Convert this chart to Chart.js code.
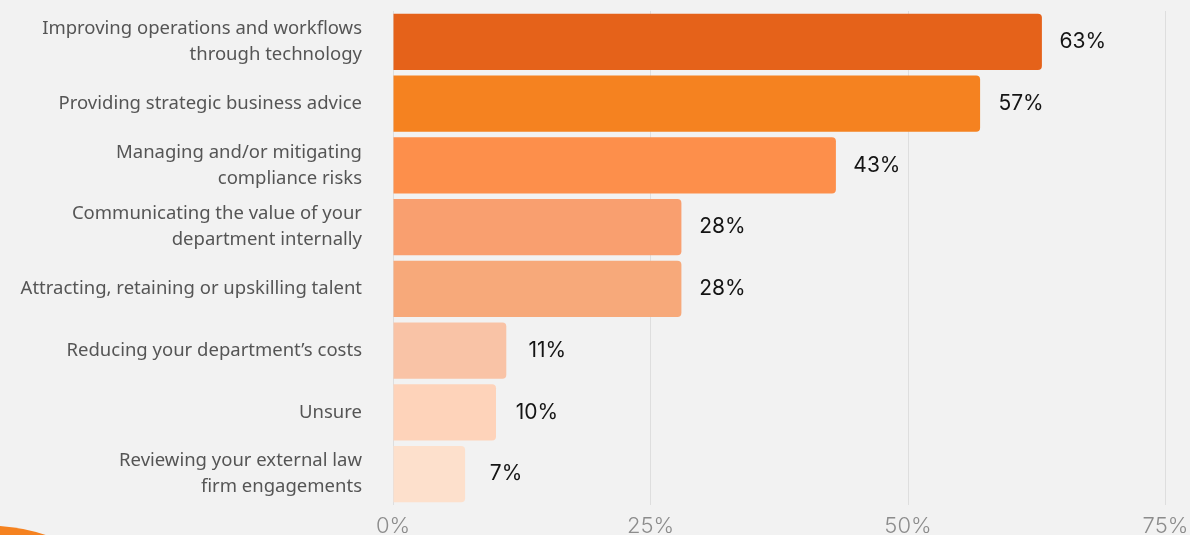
<!DOCTYPE html>
<html>
<head>
<meta charset="utf-8">
<script src="https://cdn.jsdelivr.net/npm/chart.js@4"></script>
<style>
  html, body { margin: 0; padding: 0; background: #f2f2f2; }
  #wrap { position: relative; width: 1190px; height: 535px; overflow: hidden; }
  canvas { display: block; }
</style>
</head>
<body>
<div id="wrap"><canvas id="chart" width="1190" height="535"></canvas></div>
<script>
// Survey priorities, share of respondents (%)
const categories = [
  ["Improving operations and workflows", "through technology"],
  "Providing strategic business advice",
  ["Managing and/or mitigating", "compliance risks"],
  ["Communicating the value of your", "department internally"],
  "Attracting, retaining or upskilling talent",
  "Reducing your department\u2019s costs",
  "Unsure",
  ["Reviewing your external law", "firm engagements"]
];
const values = [63, 57, 43, 28, 28, 11, 10, 7];
const barColors = ["#e5621a", "#f58220", "#fd8f4b", "#f99f6f", "#f7a97a", "#f9c3a6", "#fed3ba", "#fde0cc"];
const tickValues = [0, 25, 50, 75];

// Orange corner accent in the lower-left of the canvas
const cornerAccent = {
  id: 'cornerAccent',
  beforeDraw(chart) {
    const ctx = chart.ctx;
    ctx.save();
    ctx.fillStyle = '#f58220';
    ctx.beginPath();
    ctx.arc(-12, 705.5, 180, 0, Math.PI * 2);
    ctx.fill();
    ctx.restore();
  }
};

// Percentage labels to the right of each bar
const valueLabels = {
  id: 'valueLabels',
  afterDatasetsDraw(chart) {
    const ctx = chart.ctx;
    const meta = chart.getDatasetMeta(0);
    ctx.save();
    ctx.font = '400 21px Inter, "Noto Sans", sans-serif';
    ctx.fillStyle = '#141414';
    ctx.textAlign = 'center';
    ctx.textBaseline = 'middle';
    meta.data.forEach((bar, i) => {
      ctx.fillText(values[i] + '%', bar.x + 41, bar.y);
    });
    ctx.restore();
  }
};

new Chart(document.getElementById('chart'), {
  type: 'bar',
  data: {
    labels: categories,
    datasets: [{
      data: values,
      backgroundColor: barColors,
      borderRadius: 4,
      borderSkipped: 'start',
      categoryPercentage: 1.0,
      barPercentage: 0.907
    }]
  },
  options: {
    indexAxis: 'y',
    responsive: false,
    animation: false,
    layout: { padding: { top: 11, right: 24.5, bottom: 0, left: 0 } },
    plugins: { legend: { display: false }, tooltip: { enabled: false } },
    scales: {
      x: {
        min: 0,
        max: 75,
        afterBuildTicks(axis) { axis.ticks = tickValues.map(v => ({ value: v })); },
        afterFit(axis) {
          axis.height = 30;
          axis.paddingLeft = 0;
          axis.paddingRight = 0;
        },
        grid: { color: '#dedede', lineWidth: 1, drawTicks: false },
        border: { display: false },
        ticks: {
          padding: 8,
          color: '#8c8c8c',
          font: { family: 'Inter, "Noto Sans", sans-serif', size: 22, weight: '300', lineHeight: 1.2 },
          callback: v => v + '%'
        }
      },
      y: {
        afterFit(axis) {
          axis.width = 393;
          axis.paddingTop = 0;
          axis.paddingBottom = 0;
        },
        grid: { display: false, drawTicks: true, tickLength: 31 },
        border: { display: false },
        ticks: {
          padding: 0,
          color: '#555555',
          font: { family: '"Noto Sans", sans-serif', size: 18.5, lineHeight: 1.4 }
        }
      }
    }
  },
  plugins: [cornerAccent, valueLabels]
});
</script>
</body>
</html>
